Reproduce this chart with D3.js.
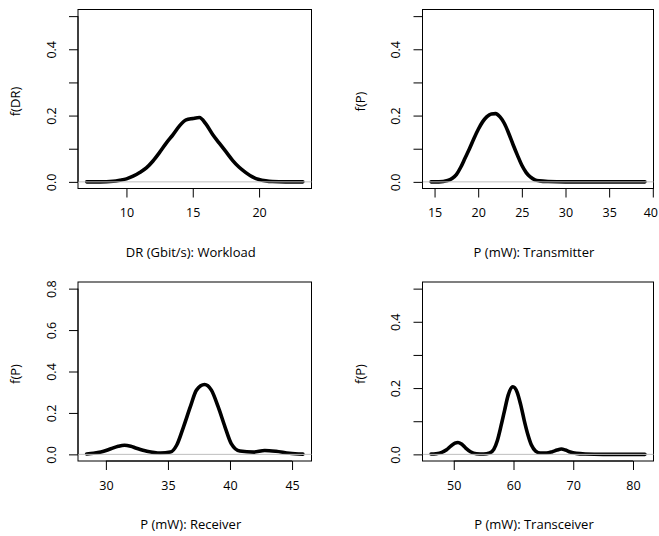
<!DOCTYPE html>
<html>
<head>
<meta charset="utf-8">
<script src="https://cdn.jsdelivr.net/npm/d3@7"></script>
<style>
  body { margin: 0; background: #fff; }
  svg { display: block; }
</style>
</head>
<body>
<svg id="chart" width="659" height="536"></svg>
<script>
// density estimates, one pair of arrays per panel
const workloadX = [7.0, 8.0, 9.0, 9.5, 10.0, 10.5, 11.0, 11.5, 12.0, 12.5, 13.0, 13.5, 14.0, 14.5, 15.0, 15.5, 16.0, 16.5, 17.0, 17.5, 18.0, 18.5, 19.0, 19.5, 20.0, 20.5, 21.0, 22.0, 23.3];
const workloadY = [0.000, 0.000, 0.002, 0.005, 0.009, 0.017, 0.028, 0.042, 0.063, 0.089, 0.117, 0.142, 0.169, 0.187, 0.191, 0.194, 0.174, 0.143, 0.117, 0.091, 0.065, 0.044, 0.028, 0.015, 0.007, 0.003, 0.001, 0.000, 0.000];

const transmitterX = [14.6, 15.5, 16.5, 17.0, 17.5, 18.0, 18.5, 19.0, 19.5, 20.0, 20.5, 21.0, 21.5, 22.0, 22.5, 23.0, 23.5, 24.0, 24.5, 25.0, 25.5, 26.0, 26.5, 27.0, 28.0, 30.0, 33.0, 36.0, 39.1];
const transmitterY = [0.000, 0.000, 0.004, 0.010, 0.022, 0.044, 0.072, 0.100, 0.130, 0.158, 0.181, 0.197, 0.205, 0.206, 0.196, 0.176, 0.146, 0.112, 0.080, 0.050, 0.028, 0.014, 0.006, 0.003, 0.001, 0.000, 0.000, 0.000, 0.000];

const receiverX = [28.45, 29.0, 29.6, 30.4, 31.0, 31.5, 32.0, 32.4, 33.3, 34.4, 35.2, 35.7, 36.25, 36.8, 37.3, 37.95, 38.5, 39.05, 39.6, 40.1, 40.8, 41.9, 42.8, 43.7, 44.8, 45.87];
const receiverY = [0.002, 0.005, 0.011, 0.027, 0.039, 0.044, 0.039, 0.031, 0.015, 0.006, 0.011, 0.044, 0.132, 0.229, 0.310, 0.337, 0.310, 0.229, 0.132, 0.052, 0.016, 0.011, 0.019, 0.015, 0.005, 0.001];

const transceiverX = [46.2, 47.0, 48.0, 48.8, 49.5, 50.2, 50.7, 51.3, 52.0, 52.8, 53.8, 55.0, 56.0, 56.7, 57.3, 57.9, 58.5, 59.1, 59.9, 60.6, 61.2, 61.8, 62.4, 63.0, 63.7, 64.5, 65.5, 66.5, 67.3, 68.0, 68.7, 69.5, 70.5, 72.0, 75.0, 82.0];
const transceiverY = [0.001, 0.002, 0.006, 0.014, 0.025, 0.034, 0.036, 0.031, 0.019, 0.008, 0.002, 0.001, 0.004, 0.015, 0.042, 0.085, 0.132, 0.178, 0.204, 0.188, 0.150, 0.102, 0.060, 0.028, 0.010, 0.004, 0.004, 0.008, 0.013, 0.016, 0.013, 0.007, 0.003, 0.001, 0.000, 0.000];

const xTicks = [[10, 15, 20], [15, 20, 25, 30, 35, 40], [30, 35, 40, 45], [50, 60, 70, 80]];
const yTicks = [[0, 0.1, 0.2, 0.3, 0.4, 0.5], [0, 0.1, 0.2, 0.3, 0.4, 0.5], [0, 0.2, 0.4, 0.6, 0.8], [0, 0.1, 0.2, 0.3, 0.4, 0.5]];
const yLabelled = [[0, 0.2, 0.4], [0, 0.2, 0.4], [0, 0.2, 0.4, 0.6, 0.8], [0, 0.2, 0.4]];
const xTitles = ["DR (Gbit/s): Workload", "P (mW): Transmitter", "P (mW): Receiver", "P (mW): Transceiver"];
const yTitles = ["f(DR)", "f(P)", "f(P)", "f(P)"];

const seriesX = [workloadX, transmitterX, receiverX, transceiverX];
const seriesY = [workloadY, transmitterY, receiverY, transceiverY];

// plot boxes, R style mfrow=c(2,2)
const colLeft = [78, 422.5];
const colWidth = [233.5, 231];
const rowTop = [9.5, 282];
const boxH = 179;
const font = "'Open Sans', 'DejaVu Sans', sans-serif";
const tickLen = 9;
const W = 659;

const svg = d3.select("#chart");

// like R: pad the range by 4% on each side
function padded(ext) {
  const d = (ext[1] - ext[0]) * 0.04;
  return [ext[0] - d, ext[1] + d];
}

seriesX.forEach((xs, p) => {
  const col = p % 2, row = Math.floor(p / 2);
  const left = colLeft[col], right = left + colWidth[col];
  const top = rowTop[row], bottom = top + boxH;

  const ys = seriesY[p];
  const yt = yTicks[p];
  const x = d3.scaleLinear(padded(d3.extent(xs)), [left, right]);
  const y = d3.scaleLinear(padded([0, yt[yt.length - 1]]), [bottom, top]);

  const g = svg.append("g");

  // box
  g.append("rect")
    .attr("x", left).attr("y", top)
    .attr("width", right - left).attr("height", bottom - top)
    .attr("fill", "none").attr("stroke", "#000").attr("stroke-width", 1);

  // density curve
  const line = d3.line()
    .x((d, i) => x(xs[i]))
    .y(d => y(d))
    .curve(d3.curveMonotoneX);

  g.append("path")
    .attr("d", line(ys))
    .attr("fill", "none")
    .attr("stroke", "#000")
    .attr("stroke-width", 3.6)
    .attr("stroke-linejoin", "round")
    .attr("stroke-linecap", "round");

  // zero line on top, as plot.density does
  g.append("line")
    .attr("x1", left).attr("x2", right)
    .attr("y1", y(0)).attr("y2", y(0))
    .attr("stroke", "#bebebe").attr("stroke-width", 1);

  // x axis
  const xa = g.append("g")
    .attr("transform", `translate(0,${bottom})`)
    .call(d3.axisBottom(x).tickValues(xTicks[p]).tickSize(tickLen).tickPadding(11).tickFormat(d3.format("d")));
  xa.select(".domain").attr("d", `M${x(xTicks[p][0])},0H${x(xTicks[p][xTicks[p].length - 1])}`);

  // y axis, labels turned like las=0
  const ya = g.append("g")
    .attr("transform", `translate(${left},0)`)
    .call(d3.axisLeft(y).tickValues(yt).tickSize(tickLen)
      .tickFormat(d => yLabelled[p].some(v => Math.abs(v - d) < 1e-9) ? d3.format(".1f")(d) : ""));
  ya.select(".domain").attr("d", `M0,${y(yt[0])}V${y(yt[yt.length - 1])}`);
  ya.selectAll(".tick text")
    .attr("x", null).attr("dy", null)
    .attr("text-anchor", "middle")
    .attr("transform", "translate(-22.5,0) rotate(-90)");

  g.selectAll(".domain, .tick line").attr("stroke", "#000").attr("stroke-width", 1);
  g.selectAll(".tick text")
    .attr("font-family", font).attr("font-size", 12.5).attr("fill", "#000");

  // keep the last x label inside the page
  xa.selectAll(".tick text").each(function(d) {
    const half = this.getComputedTextLength() / 2;
    const over = x(d) + half - (W - 1.5);
    if (over > 0) d3.select(this).attr("x", -over);
  });

  // titles
  g.append("text")
    .attr("x", (left + right) / 2 - 4)
    .attr("y", bottom + 68)
    .attr("text-anchor", "middle")
    .attr("font-family", font).attr("font-size", 13)
    .text(xTitles[p]);

  g.append("text")
    .attr("transform", `translate(${left - 58},${(top + bottom) / 2 + 2.5}) rotate(-90)`)
    .attr("text-anchor", "middle")
    .attr("font-family", font).attr("font-size", 13)
    .text(yTitles[p]);
});
</script>
</body>
</html>
